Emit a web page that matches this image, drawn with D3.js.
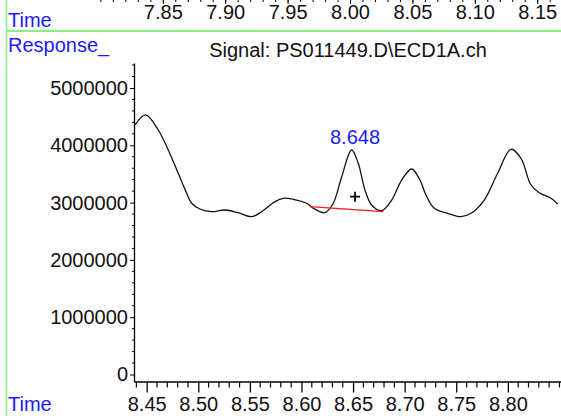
<!DOCTYPE html>
<html>
<head>
<meta charset="utf-8">
<script src="https://cdn.jsdelivr.net/npm/d3@7"></script>
<style>
  html, body { margin: 0; padding: 0; background: #fff; }
  svg { display: block; font-family: "Liberation Sans", Arial, sans-serif; }
</style>
</head>
<body>
<svg id="chart" width="561" height="416"></svg>
<script>
// ---- data ----
const times = [8.4387, 8.4490, 8.4612, 8.4709, 8.4806, 8.4888, 8.4936, 8.5016, 8.5130, 8.5259,
  8.5388, 8.5517, 8.5614, 8.5743, 8.5824, 8.5921, 8.6050, 8.6114, 8.6228, 8.6308,
  8.6390, 8.6486, 8.6550, 8.6615, 8.6680, 8.6777, 8.6874, 8.6971, 8.7068, 8.7148,
  8.7206, 8.7287, 8.7417, 8.7545, 8.7643, 8.7771, 8.7901, 8.8030, 8.8127, 8.8224,
  8.8304, 8.8418, 8.8483];
const responses = [4354000, 4529000, 4267000, 3918000, 3511000, 3162000, 2988000, 2888000, 2841000, 2871000,
  2824000, 2754000, 2841000, 3016000, 3075000, 3058000, 2988000, 2901000, 2824000, 2988000,
  3452000, 3918000, 3686000, 3220000, 2958000, 2859000, 3045000, 3394000, 3586000, 3394000,
  3133000, 2901000, 2813000, 2754000, 2813000, 3045000, 3511000, 3930000, 3773000, 3307000,
  3173000, 3075000, 2976000];
const baselineTimes = [8.6082, 8.6793];
const baselineValues = [2928000, 2841000];
const peakTime = [8.6519];
const peakMarkValue = [3103000];
const peakLabel = "8.648";
const peakLabelValue = [4150000];
const xTickLabels = [8.45, 8.50, 8.55, 8.60, 8.65, 8.70, 8.75, 8.80];
const yTickLabels = [0, 1000000, 2000000, 3000000, 4000000, 5000000];
const topTickLabels = [7.85, 7.90, 7.95, 8.00, 8.05, 8.10, 8.15];
const title = "Signal: PS011449.D\\ECD1A.ch";

// ---- layout ----
const svg = d3.select("#chart");
const FONT = 20;
const blue = "#1a1aff";
const green = "#86ef86";

const x = d3.scaleLinear().domain([8.4377, 8.8515]).range([134, 561]);
const y = d3.scaleLinear().domain([-122000, 5436000]).range([381.5, 63]);
const xTop = d3.scaleLinear().domain([7.85, 8.15]).range([163.3, 537.7]);

// green frame
svg.append("line").attr("x1", 6.5).attr("x2", 6.5).attr("y1", 0).attr("y2", 416)
  .attr("stroke", green).attr("stroke-width", 1.5);
svg.append("line").attr("x1", 6.5).attr("x2", 561).attr("y1", 31).attr("y2", 31)
  .attr("stroke", green).attr("stroke-width", 2);

// top axis (from previous panel)
const topMinor = d3.range(7.80, 8.20, 0.01).filter(v => xTop(v) > 8 && xTop(v) < 561);
svg.append("g").selectAll("line").data(topMinor).join("line")
  .attr("x1", d => xTop(d)).attr("x2", d => xTop(d))
  .attr("y1", 0).attr("y2", 2).attr("stroke", "#000").attr("stroke-width", 1);
svg.append("g").selectAll("line").data(topTickLabels).join("line")
  .attr("x1", d => xTop(d)).attr("x2", d => xTop(d))
  .attr("y1", 0).attr("y2", 4).attr("stroke", "#000").attr("stroke-width", 1);
svg.append("g").selectAll("text").data(topTickLabels).join("text")
  .attr("x", d => xTop(d)).attr("y", 18.5)
  .attr("text-anchor", "middle").attr("font-size", FONT).attr("fill", "#111")
  .text(d => d.toFixed(2));

// blue labels
svg.append("text").attr("x", 8).attr("y", 26.5).attr("font-size", FONT).attr("fill", blue).text("Time");
svg.append("text").attr("x", 8).attr("y", 52).attr("font-size", FONT).attr("fill", blue).text("Response_");
svg.append("text").attr("x", 8).attr("y", 411).attr("font-size", FONT).attr("fill", blue).text("Time");

// title
svg.append("text").attr("x", 348).attr("y", 57).attr("text-anchor", "middle")
  .attr("font-size", FONT).attr("fill", "#111").text(title);

// y axis
const yAxis = d3.axisLeft(y).tickValues(yTickLabels).tickSize(4).tickSizeOuter(0).tickPadding(2)
  .tickFormat(d3.format("d"));
const gy = svg.append("g").attr("transform", "translate(134,0)").call(yAxis);
gy.selectAll("text").attr("font-size", FONT).attr("fill", "#111").style("font-family", "inherit");
gy.select(".domain").attr("stroke-width", 1.3);
const yMinor = d3.range(0, 5400001, 200000).filter(v => !yTickLabels.includes(v));
gy.append("g").selectAll("line").data(yMinor).join("line")
  .attr("x1", -2).attr("x2", 0).attr("y1", d => y(d)).attr("y2", d => y(d))
  .attr("stroke", "#000");

// x axis
const xAxis = d3.axisBottom(x).tickValues(xTickLabels).tickSize(11).tickSizeOuter(0).tickPadding(4)
  .tickFormat(d3.format(".2f"));
const gx = svg.append("g").attr("transform", "translate(0,381.5)").call(xAxis);
gx.selectAll("text").attr("font-size", FONT).attr("fill", "#111").style("font-family", "inherit");
gx.selectAll(".tick line").attr("stroke-width", 1.3);
gx.select(".domain").attr("stroke-width", 1.3);
const xMinor = d3.range(8.44, 8.851, 0.01).map(v => +v.toFixed(2))
  .filter(v => !xTickLabels.includes(v) && x(v) > 135);
gx.append("g").selectAll("line").data(xMinor).join("line")
  .attr("x1", d => x(d)).attr("x2", d => x(d)).attr("y1", 0).attr("y2", 6)
  .attr("stroke", "#000").attr("stroke-width", 1.2);

// signal trace
const pts = times.map((t, i) => [t, responses[i]]);
const line = d3.line().x(d => x(d[0])).y(d => y(d[1])).curve(d3.curveCatmullRom.alpha(0.5));
svg.append("path").datum(pts).attr("d", line)
  .attr("fill", "none").attr("stroke", "#111").attr("stroke-width", 1.3);

// integration baseline
svg.append("line")
  .attr("x1", x(baselineTimes[0])).attr("y1", y(baselineValues[0]))
  .attr("x2", x(baselineTimes[1])).attr("y2", y(baselineValues[1]))
  .attr("stroke", "#ff1a1a").attr("stroke-width", 1.3);

// peak marker "+"
const px = x(peakTime[0]), py = y(peakMarkValue[0]);
svg.append("path").attr("d", `M${px - 5},${py}H${px + 5}M${px},${py - 5}V${py + 5}`)
  .attr("stroke", "#000").attr("stroke-width", 1.8);

// peak label
svg.append("text").attr("x", px).attr("y", y(peakLabelValue[0]) + 7)
  .attr("text-anchor", "middle").attr("font-size", FONT).attr("fill", blue).text(peakLabel);
</script>
</body>
</html>
